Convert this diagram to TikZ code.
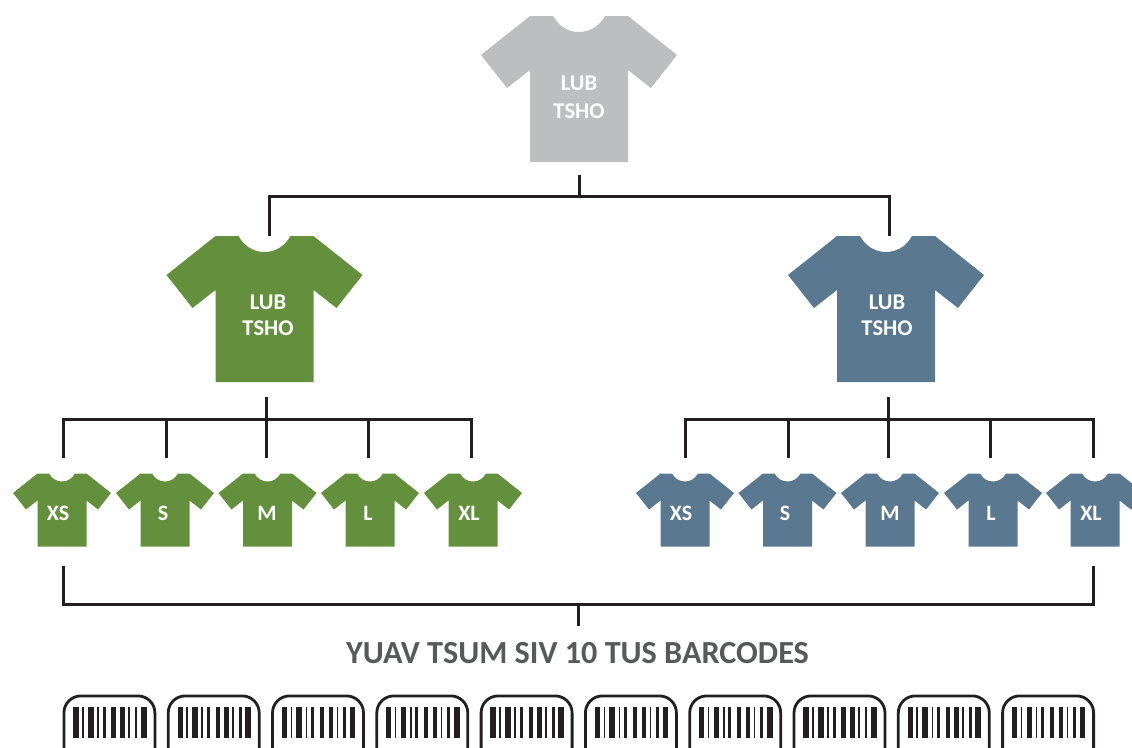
\documentclass[tikz,border=0pt]{standalone}
\usepackage{fontspec}
\setmainfont{Carlito}
\definecolor{linec}{HTML}{231F20}
\definecolor{grayc}{HTML}{BCBEC0}
\definecolor{greenc}{HTML}{64903D}
\definecolor{bluec}{HTML}{5B7891}
\definecolor{titlec}{HTML}{58595B}
\tikzset{
  conn/.style={draw=linec,line width=3pt,line cap=butt,line join=miter},
  biglabel/.style={text=white,font=\bfseries\fontsize{22.5}{28}\selectfont,align=center,inner sep=0pt},
  midlabel/.style={text=white,font=\bfseries\fontsize{22.5}{26}\selectfont,align=center,inner sep=0pt},
  smalllabel/.style={text=white,font=\bfseries\fontsize{22}{24}\selectfont,inner sep=0pt},
  barbox/.style={draw=linec,line width=2.8pt,rounded corners=17pt},
}
% name, cx, top, scale, colour
\newcommand{\tee}[5]{%
  \begin{scope}[shift={(#2,#3)},scale=#4]
    \fill[#5] (-49,0) -- (-26,0) .. controls (-20,11) and (-10,16) .. (0,16)
      .. controls (10,16) and (20,11) .. (26,0) -- (49,0) -- (98,39) -- (72,72) -- (49,54)
      -- (49,146) -- (-49,146) -- (-49,54) -- (-72,72) -- (-98,39) -- cycle;
    \coordinate (#1) at (0,0);
  \end{scope}}
% name, x left
\newcommand{\barcodebox}[2]{%
  \node[barbox,minimum width=91pt,minimum height=70pt,anchor=north west,inner sep=0pt] (#1) at (#2,694.5) {};
  \begin{scope}[shift={(#2,0)}]
    \foreach \ba/\bb in {2.7/8,11.5/13,17.3/23,26.6/28.2,32/35,40.8/45,49.5/54,57.5/59,64/66.8,70.5/76.2}
      \fill[linec] (\ba+8,707) rectangle (\bb+8,738);
  \end{scope}}
\begin{document}
\begin{tikzpicture}[x=1pt,y=-1pt]
\useasboundingbox (0,0) rectangle (1132,747);
\clip (0,0) rectangle (1132,747);
\tee{root}{579}{16}{1}{grayc}
\tee{gmain}{264.5}{236}{1}{greenc}
\tee{bmain}{886}{236}{1}{bluec}
\tee{g1}{62}{473.5}{.5}{greenc}
\tee{g2}{165}{473.5}{.5}{greenc}
\tee{g3}{267.5}{473.5}{.5}{greenc}
\tee{g4}{370}{473.5}{.5}{greenc}
\tee{g5}{473}{473.5}{.5}{greenc}
\tee{b1}{685}{473.5}{.5}{bluec}
\tee{b2}{787.5}{473.5}{.5}{bluec}
\tee{b3}{890}{473.5}{.5}{bluec}
\tee{b4}{993}{473.5}{.5}{bluec}
\tee{b5}{1095}{473.5}{.5}{bluec}
\node[biglabel] (lroot) at (579,97) {LUB\\TSHO};
\node[midlabel] (lg) at (268,315) {LUB\\TSHO};
\node[midlabel] (lb) at (887,315) {LUB\\TSHO};
\foreach \n/\x/\t in {sg1/58/XS,sg2/163/S,sg3/267/M,sg4/368/L,sg5/469/XL,sb1/681/XS,sb2/785/S,sb3/890/M,sb4/991/L,sb5/1091/XL}
  \node[smalllabel] (\n) at (\x,513) {\t};
% connector coordinates
\coordinate (rs) at (579.5,175);
\coordinate (rj) at (579.5,196);
\coordinate (rl) at (269.5,236);
\coordinate (rr) at (889,236);
\coordinate (gs) at (266,397);
\coordinate (gj) at (266,419);
\coordinate (bs) at (888,397);
\coordinate (bj) at (888,419);
\coordinate (d1) at (63.5,566);
\coordinate (d2) at (1093,566);
\coordinate (dj) at (578,604);
\coordinate (de) at (578,626);
\draw[conn] (rs) -- (rj);
\draw[conn] (rl) |- (rj) -| (rr);
\draw[conn] (gs) -- (gj);
\draw[conn] (bs) -- (bj);
\foreach \x in {166.5,266,368.5}
  \draw[conn] (\x,419) -- (\x,458);
\draw[conn] (63.5,458) |- (gj) -| (471,458);
\foreach \x in {788,888,990.5}
  \draw[conn] (\x,419) -- (\x,458);
\draw[conn] (685.5,458) |- (bj) -| (1093,458);
\draw[conn] (d1) |- (dj) -| (d2);
\draw[conn] (dj) -- (de);
\node[text=titlec,font=\bfseries\fontsize{32.2}{36}\selectfont,inner sep=0pt] (title) at (577.5,653) {YUAV TSUM SIV 10 TUS BARCODES};
\foreach \i in {0,...,9}{
  \pgfmathsetmacro{\xl}{62.5+104.3*\i}
  \barcodebox{bc\i}{\xl}
}
\end{tikzpicture}
\end{document}
